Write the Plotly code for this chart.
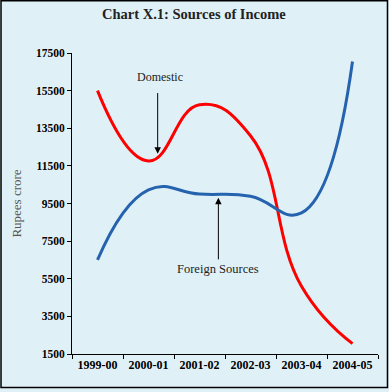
import plotly.graph_objects as go

years = ["1999-00", "2000-01", "2001-02", "2002-03", "2003-04", "2004-05"]
domestic = [15500, 11760, 14750, 13100, 5100, 2050]
foreign = [6500, 10230, 10000, 9880, 9000, 17050]
y_ticks = [1500, 3500, 5500, 7500, 9500, 11500, 13500, 15500, 17500]

bg = "#dff1f7"
fig = go.Figure()
fig.add_trace(go.Scatter(x=years, y=domestic, mode="lines", name="Domestic",
                         line=dict(color="#ff0000", width=3, shape="spline", smoothing=1.3)))
fig.add_trace(go.Scatter(x=years, y=foreign, mode="lines", name="Foreign Sources",
                         line=dict(color="#2563ae", width=3, shape="spline", smoothing=1.3)))

# arrows
fig.add_annotation(x=1.18, y=12150, ax=1.18, ay=15450, axref="x", ayref="y", xref="x", yref="y",
                   text="", showarrow=True, arrowhead=2, arrowsize=1.3, arrowwidth=1, arrowcolor="black")
fig.add_annotation(x=1.22, y=16200, text="Domestic", showarrow=False, xref="x", yref="y",
                   font=dict(family="Liberation Serif", size=12, color="#222"))
fig.add_annotation(x=2.37, y=9800, ax=2.37, ay=6450, axref="x", ayref="y", xref="x", yref="y",
                   text="", showarrow=True, arrowhead=2, arrowsize=1.3, arrowwidth=1, arrowcolor="black")
fig.add_annotation(x=2.37, y=6020, text="Foreign Sources", showarrow=False, xref="x", yref="y",
                   font=dict(family="Liberation Serif", size=12.5, color="#222"))

fig.add_annotation(x=0.4, y=1.13, xref="paper", yref="paper", text="<b>Chart X.1: Sources of Income</b>",
                   showarrow=False, yanchor="middle", font=dict(family="Liberation Serif", size=14.5, color="#222"))

# outer border
fig.add_shape(type="rect", xref="paper", yref="paper", x0=-0.232, x1=1.031, y0=-0.111, y1=1.174,
              line=dict(color="black", width=1.5))

fig.update_layout(
    width=389, height=392,
    margin=dict(l=72, r=11, t=53, b=38),
    paper_bgcolor=bg, plot_bgcolor=bg,
    showlegend=False,
    xaxis=dict(type="category", range=[-0.5, 5.5], tickson="boundaries", ticks="outside", ticklen=4,
               tickcolor="black", showline=True, linecolor="black", linewidth=1, showgrid=False,
               tickfont=dict(family="Liberation Serif", size=12, color="black", weight="bold")),
    yaxis=dict(range=[1500, 17500], tickvals=y_ticks, ticktext=[str(v) for v in y_ticks],
               ticks="outside", ticklen=4, tickcolor="black", showline=True, linecolor="black",
               linewidth=1, showgrid=False, zeroline=False,
               tickfont=dict(family="Liberation Serif", size=11.5, color="black", weight="bold"),
               title=dict(text="Rupees crore", standoff=11,
                          font=dict(family="Liberation Serif", size=13, color="#555"))),
)

fig.write_html("out.html", config={"displayModeBar": False},
               post_script="document.body.style.margin='0';document.body.style.overflow='hidden';")
